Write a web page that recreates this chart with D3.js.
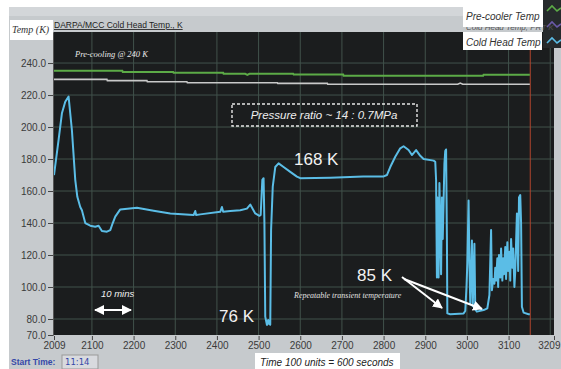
<!DOCTYPE html>
<html><head><meta charset="utf-8">
<script src="https://cdn.jsdelivr.net/npm/d3@7"></script>
<style>body{margin:0;background:#fff}svg{display:block}</style>
</head><body>
<script>
// ---- data ----
const xTicks = [2009,2100,2200,2300,2400,2500,2600,2700,2800,2900,3000,3100,3209];
const yTicks = [70,80,100,120,140,160,180,200,220,240];
const gridX = [2100,2200,2300,2400,2500,2600,2700,2800,2900,3000,3100,3200];
const gridY = [80,100,120,140,160,180,200,220,240];

const preCoolerX = [2009,2173,2174,2295,2296,2415,2416,2468,2473,2478,2583,2584,2703,2704,3039,3040,3151];
const preCoolerY = [235.2,235.2,234.4,234.4,233.9,233.9,233.3,233.3,232.6,233.3,233.3,232.9,232.9,232.1,232.1,232.7,232.7];

const otherX = [2009,2136,2137,2232,2233,2328,2329,2545,2546,2665,2666,2978,2984,2990,3151];
const otherY = [229.8,229.8,229.0,229.0,228.3,228.3,227.7,227.7,227.3,227.3,226.7,226.7,227.5,226.7,226.7];

const coldX = [2009,2020,2028,2036,2044,2052,2060,2065,2072,2076,2084,2096,2108,2116,2124,2136,2144,2150,2156,2168,2208,2248,2288,2344,2348,2350,2360,2408,2412,2415,2432,2456,2472,2480,2492,2502,2505,2509,2512,2514,2516,2520,2523,2525,2528,2530,2534,2540,2548,2560,2576,2592,2600,2672,2751,2799,2808,2816,2828,2840,2848,2860,2868,2878,2888,2896,2920,2924,2926,2928,2929,2932,2934,2938,2940,2942,2946,2948,2950,2952,2953,2960,2992,2996,2999,3001,3004,3006,3008,3012,3014,3018,3020,3024,3040,3049,3054,3058,3060,3063,3066,3068,3070,3073,3075,3077,3080,3082,3085,3087,3089,3092,3094,3097,3099,3102,3104,3106,3109,3111,3114,3116,3120,3123,3125,3128,3130,3132,3136,3148,3151];
const coldY = [170,192,208.6,215.8,219,198,167,156.4,150,148,140,138.3,137.7,138.3,135,134.6,135.6,140,144,148.5,149.6,147.7,146,145,147.5,145,145.4,147,150,147,147.5,148,149,151.5,146,144.5,145,167,168,140,81.5,76.3,79.4,77,76.5,135.6,162.7,175,177.3,175,172,169,168,168.3,169,169,170,175,181.4,186.7,188,185.6,182.5,185.6,182,180,179,178.3,167,106,156,106,165,108,156,130,177,185,186,130,83.5,83,83.5,85,100,115,154,115,90,129,88,127,86,84.6,85.6,86.7,95,135.6,98,105,102,112,104,118,100,120,106,124,104,118,108,125,105,128,110,122,104,130,112,124,100,110,146,110,156,157.5,140,87.7,84,83,83];

// ---- layout ----
const W = 561, H = 369;
const x = d3.scaleLinear().domain([2009,3209]).range([54,554]);
const y = d3.scaleLinear().domain([70,259.4]).range([335,32]);

const svg = d3.select("body").append("svg").attr("width",W).attr("height",H);

svg.append("rect").attr("x",0).attr("y",0).attr("width",W).attr("height",H).attr("fill","#ffffff");
svg.append("rect").attr("x",9).attr("y",7).attr("width",W-9).attr("height",H-7).attr("fill","#c6cacd");
svg.append("rect").attr("x",9).attr("y",7).attr("width",W-9).attr("height",9).attr("fill","#d3d6d9");
svg.append("rect").attr("x",54).attr("y",32).attr("width",500).attr("height",303).attr("fill","#1b1d1e");

// grid
svg.append("g").selectAll("line").data(gridX).join("line")
  .attr("x1",d=>x(d)).attr("x2",d=>x(d)).attr("y1",32).attr("y2",335)
  .attr("stroke","#41524b").attr("stroke-width",1);
svg.append("g").selectAll("line").data(gridY).join("line")
  .attr("x1",54).attr("x2",554).attr("y1",d=>y(d)).attr("y2",d=>y(d))
  .attr("stroke","#41524b").attr("stroke-width",1);

// red cursor
svg.append("line").attr("x1",x(3152)).attr("x2",x(3152)).attr("y1",32).attr("y2",335)
  .attr("stroke","#b0442e").attr("stroke-width",1);

// lines
const mk = (xs,ys)=>xs.map((v,i)=>[v,ys[i]]);
const line = d3.line().x(d=>x(d[0])).y(d=>y(d[1]));
svg.append("path").attr("d",line(mk(preCoolerX,preCoolerY))).attr("fill","none")
  .attr("stroke","#5cab47").attr("stroke-width",2);
svg.append("path").attr("d",line(mk(otherX,otherY))).attr("fill","none")
  .attr("stroke","#c9c9c9").attr("stroke-width",1.6);
svg.append("path").attr("d",line(mk(coldX,coldY))).attr("fill","none")
  .attr("stroke","#5bbde6").attr("stroke-width",2).attr("stroke-linejoin","round");

// axes
const yAxis = svg.append("g").attr("transform","translate(53,0)")
  .call(d3.axisLeft(y).tickValues(yTicks).tickFormat(d3.format(".1f")).tickSize(5));
yAxis.select(".domain").attr("stroke","#555");
yAxis.selectAll("line").attr("stroke","#444");
yAxis.selectAll("text").attr("fill","#3a3a3a").style("font","10px 'Liberation Sans', Arial, sans-serif").attr("dx","1");

const xAxis = svg.append("g").attr("transform","translate(0,336)")
  .call(d3.axisBottom(x).tickValues(xTicks).tickFormat(d3.format("d")).tickSize(4));
xAxis.select(".domain").remove();
xAxis.selectAll("line").attr("stroke","#444");
xAxis.selectAll("text").attr("fill","#3a3a3a").style("font","10px 'Liberation Sans', Arial, sans-serif").attr("dy","0.6em");
xAxis.selectAll("text").filter(d=>d===3209).attr("text-anchor","end").attr("dx",6);

// title strip
svg.append("text").attr("x",54).attr("y",28).text("DARPA/MCC Cold Head Temp., K")
  .attr("fill","#222").style("font","8.5px 'Liberation Sans', sans-serif").attr("text-decoration","underline");
svg.append("rect").attr("x",10).attr("y",20).attr("width",43).attr("height",20).attr("fill","#fff");
svg.append("text").attr("x",12).attr("y",33).text("Temp (K)")
  .attr("fill","#333").style("font","italic 10px 'Liberation Serif', serif");

// legend
svg.append("rect").attr("x",543).attr("y",0).attr("width",18).attr("height",48).attr("fill","#262a2c");
const legIcon = [["#5cab47",8],["#6b5aa8",24],["#5bbde6",40]];
legIcon.forEach(([c,yy])=>{
  svg.append("path").attr("d",`M547,${yy+3} L552,${yy-2} L557,${yy+3} L561,${yy}`).attr("fill","none").attr("stroke",c).attr("stroke-width",1.6);
});
svg.append("text").attr("x",466).attr("y",30).text("Cold Head Temp, PRT K")
  .attr("fill","#555").style("font","italic 8px 'Liberation Sans', sans-serif");
svg.append("rect").attr("x",463).attr("y",0).attr("width",80).attr("height",27).attr("fill","#fff");
svg.append("text").attr("x",466).attr("y",20).text("Pre-cooler Temp")
  .attr("fill","#333").style("font","italic 10px 'Liberation Sans', sans-serif");
svg.append("rect").attr("x",463).attr("y",32).attr("width",79).attr("height",18).attr("fill","#fff");
svg.append("text").attr("x",466).attr("y",46).text("Cold Head Temp")
  .attr("fill","#333").style("font","italic 10px 'Liberation Sans', sans-serif");

// annotations
svg.append("text").attr("x",75).attr("y",57).text("Pre-cooling  @ 240 K")
  .attr("fill","#e8e8e8").style("font","italic 8.5px 'Liberation Serif', serif");
svg.append("rect").attr("x",232).attr("y",104).attr("width",185).attr("height",22)
  .attr("fill","none").attr("stroke","#e6e6e6").attr("stroke-width",1.4).attr("stroke-dasharray","3,2");
svg.append("text").attr("x",324).attr("y",119).attr("text-anchor","middle").text("Pressure ratio ~ 14 : 0.7MPa")
  .attr("fill","#eee").style("font","italic 11.5px 'Liberation Sans', sans-serif");
svg.append("text").attr("x",294).attr("y",165).text("168 K")
  .attr("fill","#f2f2f2").style("font","17px 'Liberation Sans', sans-serif");
svg.append("text").attr("x",219).attr("y",322).text("76 K")
  .attr("fill","#f2f2f2").style("font","17px 'Liberation Sans', sans-serif");
svg.append("text").attr("x",357).attr("y",281).text("85 K")
  .attr("fill","#f2f2f2").style("font","17px 'Liberation Sans', sans-serif");
svg.append("text").attr("x",294).attr("y",298).text("Repeatable transient temperature")
  .attr("fill","#e0e0e0").style("font","italic 8px 'Liberation Serif', serif");
svg.append("text").attr("x",101).attr("y",297).text("10 mins")
  .attr("fill","#f0f0f0").style("font","italic 9.5px 'Liberation Sans', sans-serif");

const defs = svg.append("defs");
defs.append("marker").attr("id","ah").attr("viewBox","0 0 10 10").attr("refX",9).attr("refY",5)
  .attr("markerWidth",5).attr("markerHeight",5).attr("orient","auto-start-reverse")
  .append("path").attr("d","M0,0 L10,5 L0,10 z").attr("fill","#fff");
svg.append("line").attr("x1",95).attr("x2",131).attr("y1",310).attr("y2",310)
  .attr("stroke","#fff").attr("stroke-width",2).attr("marker-start","url(#ah)").attr("marker-end","url(#ah)");
svg.append("line").attr("x1",402).attr("y1",277).attr("x2",442).attr("y2",308)
  .attr("stroke","#fff").attr("stroke-width",2).attr("marker-end","url(#ah)");
svg.append("line").attr("x1",404).attr("y1",279).attr("x2",482).attr("y2",309)
  .attr("stroke","#fff").attr("stroke-width",2).attr("marker-end","url(#ah)");

// bottom
svg.append("text").attr("x",11).attr("y",365).text("Start Time:")
  .attr("fill","#3548a8").style("font","bold 8.5px 'Liberation Sans', sans-serif");
svg.append("rect").attr("x",62).attr("y",355).attr("width",36).attr("height",14)
  .attr("fill","#d8dade").attr("stroke","#999");
svg.append("text").attr("x",65).attr("y",365).text("11:14")
  .attr("fill","#3548a8").style("font","8.5px 'DejaVu Sans', sans-serif");
svg.append("rect").attr("x",255).attr("y",353).attr("width",145).attr("height",16).attr("fill","#fff");
svg.append("text").attr("x",260).attr("y",366).text("Time 100 units = 600 seconds")
  .attr("fill","#222").style("font","italic 10px 'Liberation Sans', sans-serif");
</script>
</body></html>
